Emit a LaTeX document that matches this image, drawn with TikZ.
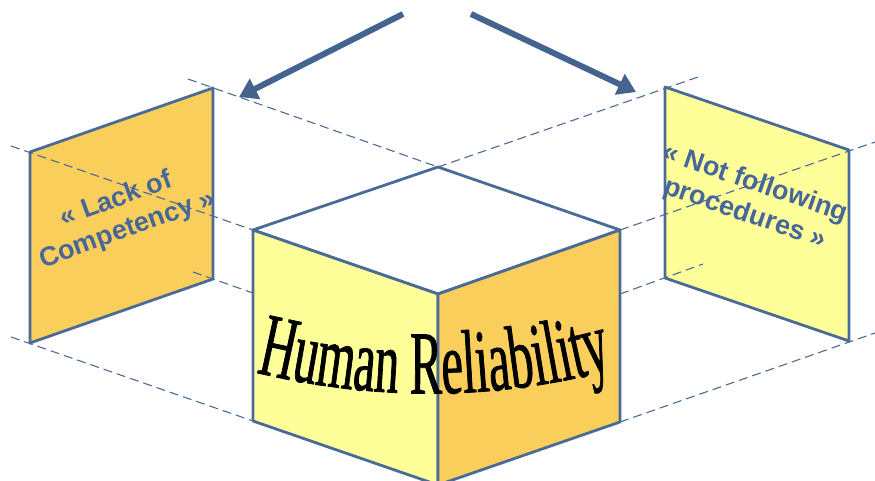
\documentclass[tikz,border=0pt]{standalone}
\usepackage{fontspec}
\setmainfont{Liberation Sans}
\newfontfamily\hrfont[FakeStretch=0.54,FakeBold=0.8]{Liberation Serif}
\usetikzlibrary{arrows.meta,decorations.text}
\definecolor{edgeblue}{HTML}{4A6A98}
\definecolor{arrowblue}{HTML}{44648F}
\definecolor{labelblue}{HTML}{47679A}
\definecolor{panelorange}{HTML}{FACE5A}
\definecolor{panelyellow}{HTML}{FFFF99}
\begin{document}
\begin{tikzpicture}[x=1pt,y=-1pt,
  face/.style={draw=edgeblue,line width=2.8pt,line join=round},
  guide/.style={draw=edgeblue,line width=1.1pt,dash pattern=on 9pt off 5pt},
  bigarrow/.style={draw=arrowblue,line width=6pt,-{Triangle[length=18pt,width=22pt]}},
  paneltext/.style={text=labelblue,font=\bfseries\fontsize{27}{32}\selectfont,align=center}]
\useasboundingbox (0,0) rectangle (875,481);
\clip (0,0) rectangle (875,481);

% left panel corners
\coordinate (lp1) at (30,152);
\coordinate (lp2) at (213,88);
\coordinate (lp3) at (213,279);
\coordinate (lp4) at (30,343);
% right panel corners
\coordinate (rp1) at (665,87);
\coordinate (rp2) at (849,150);
\coordinate (rp3) at (849,341);
\coordinate (rp4) at (665,278);
% cube corners
\coordinate (ct) at (438,167);
\coordinate (cl) at (253,230);
\coordinate (cr) at (620,230);
\coordinate (cf) at (438,294);
\coordinate (clb) at (253,421);
\coordinate (crb) at (620,422);
\coordinate (cfb) at (438,485);
\coordinate (clm) at (253,293);
\coordinate (crm) at (620,294);

% side panels
\path[face,fill=panelorange] (lp1) -- (lp2) -- (lp3) -- (lp4) -- cycle;
\path[face,fill=panelyellow] (rp1) -- (rp2) -- (rp3) -- (rp4) -- cycle;

% dashed guide lines
\coordinate (gA) at (188,79);
\coordinate (gB) at (11,146);
\coordinate (gC) at (701,76);
\coordinate (gD) at (875,142);
\coordinate (gE) at (193,272);
\coordinate (gF) at (11,337);
\coordinate (gG) at (703,264);
\coordinate (gH) at (875,333);
\draw[guide] (gA) -- (ct);
\draw[guide] (gB) -- (cl);
\draw[guide] (ct) -- (gC);
\draw[guide] (cr) -- (gD);
\draw[guide] (gE) -- (clm);
\draw[guide] (gF) -- (clb);
\draw[guide] (crm) -- (gG);
\draw[guide] (crb) -- (gH);

% cube
\path[face,fill=white] (ct) -- (cr) -- (cf) -- (cl) -- cycle;
\path[face,fill=panelyellow] (cl) -- (cf) -- (cfb) -- (clb) -- cycle;
\path[face,fill=panelorange] (cf) -- (cr) -- (crb) -- (cfb) -- cycle;

% arrows
\coordinate (la0) at (403,14);
\coordinate (la1) at (239,97);
\coordinate (ra0) at (471,14);
\coordinate (ra1) at (636,92);
\draw[bigarrow] (la0) -- (la1);
\draw[bigarrow] (ra0) -- (ra1);

% panel labels
\node[paneltext,rotate=20] (lackText) at (122,215) {« Lack of\\Competency »};
\node[paneltext,rotate=-19] (procText) at (750,199) {« Not following\\procedures »};

% arched title on the cube
\coordinate (hr0) at (262,374);
\coordinate (hr1) at (379,401);
\coordinate (hr2) at (494,400);
\coordinate (hr3) at (607,371);
\path[decorate,decoration={text along path,
  text={|\hrfont\fontsize{90}{90}\selectfont|Human Reliability},
  text align=center}] (hr0) .. controls (hr1) and (hr2) .. (hr3);
\end{tikzpicture}
\end{document}
